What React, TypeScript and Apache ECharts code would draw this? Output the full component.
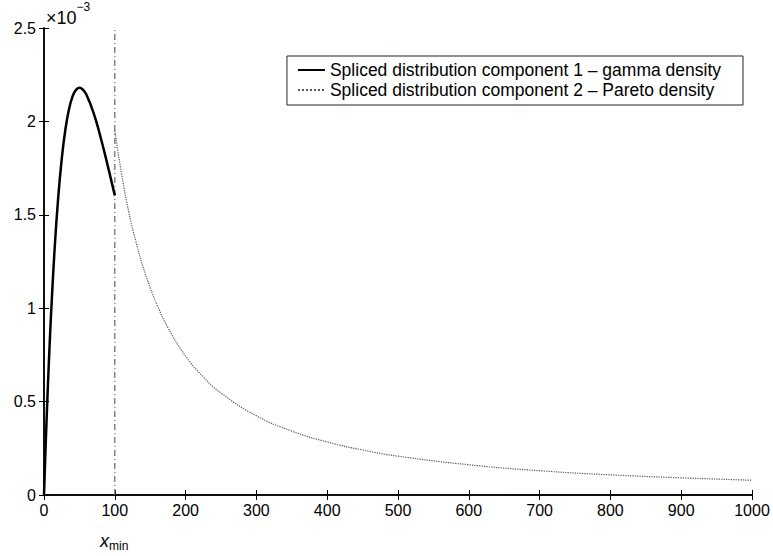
import React, { useEffect, useRef } from "react";
import * as echarts from "echarts";

// values in units of 1e-3
const gammaX = [0, 2, 4, 6, 8, 10, 15, 20, 25, 30, 35, 40, 45, 50, 55, 60, 70, 80, 90, 100];
const gammaY = [0, 0.228, 0.438, 0.631, 0.808, 0.97, 1.317, 1.589, 1.797, 1.951, 2.06, 2.13, 2.168, 2.18, 2.17, 2.142, 2.046, 1.914, 1.763, 1.604];

const paretoX = [100, 110, 120, 130, 140, 150, 160, 175, 200, 225, 250, 300, 350, 400, 450, 500, 600, 700, 800, 900, 1000];
const paretoY = [1.95, 1.71, 1.51, 1.354, 1.22, 1.11, 1.015, 0.896, 0.744, 0.632, 0.546, 0.424, 0.342, 0.284, 0.241, 0.208, 0.162, 0.13, 0.108, 0.092, 0.079];

const xMinValue = 100;
const yRange = [0, 2.5];
const xTicks = [0, 1000, 100];
const yTicks = [0, 2.5, 0.5];

const gammaName = "Spliced distribution component 1 \u2013 gamma density";
const paretoName = "Spliced distribution component 2 \u2013 Pareto density";

const FONT = "'Liberation Sans', Arial, Helvetica, sans-serif";

export default function App() {
  const ref = useRef<HTMLDivElement>(null);
  useEffect(() => {
    const chart = echarts.init(ref.current!, null, { renderer: "svg" });
    const axisCommon = {
      axisLine: { show: true, lineStyle: { color: "#000", width: 1.5 } },
      axisTick: { show: true, inside: true, length: 5, lineStyle: { color: "#000", width: 1 } },
      splitLine: { show: false },
    };
    chart.setOption({
      animation: false,
      backgroundColor: "#fff",
      textStyle: { fontFamily: FONT },
      grid: { left: 44, top: 28, right: 21, bottom: 61 },
      xAxis: [
        {
          type: "value",
          min: xTicks[0],
          max: xTicks[1],
          interval: xTicks[2],
          position: "bottom",
          ...axisCommon,
          axisLabel: {
            color: "#000",
            fontSize: 16,
            fontFamily: FONT,
            margin: 7,
            formatter: (v: number) => String(v),
          },
        },
        {
          type: "value",
          min: xTicks[0],
          max: xTicks[1],
          interval: xTicks[2],
          position: "top",
          ...axisCommon,
          axisLabel: { show: false },
        },
      ],
      yAxis: [
        {
          type: "value",
          min: yTicks[0],
          max: yTicks[1],
          interval: yTicks[2],
          position: "left",
          ...axisCommon,
          axisLabel: { color: "#000", fontSize: 16, fontFamily: FONT, margin: 8 },
        },
        {
          type: "value",
          min: yTicks[0],
          max: yTicks[1],
          interval: yTicks[2],
          position: "right",
          ...axisCommon,
          axisLabel: { show: false },
        },
      ],
      legend: {
        data: [gammaName, paretoName],
        orient: "vertical",
        right: 30,
        top: 56,
        itemWidth: 27,
        itemHeight: 14,
        itemGap: 2,
        padding: [5, 22, 6, 10],
        borderColor: "#222",
        borderWidth: 1,
        backgroundColor: "#fff",
        itemStyle: { opacity: 0 },
        textStyle: { color: "#000", fontSize: 17.5, fontFamily: FONT },
      },
      series: [
        {
          name: "xmin",
          type: "line",
          data: [
            [xMinValue, yRange[0]],
            [xMinValue, yRange[1]],
          ],
          symbol: "none",
          silent: true,
          lineStyle: { color: "#666", width: 1.2, type: [6, 3, 1, 3] },
          z: 1,
        },
        {
          name: gammaName,
          type: "line",
          data: gammaX.map((x, i) => [x, gammaY[i]]),
          symbol: "none",
          smooth: true,
          color: "#000",
          lineStyle: { color: "#000", width: 2.5 },
          z: 3,
        },
        {
          name: paretoName,
          type: "line",
          data: paretoX.map((x, i) => [x, paretoY[i]]),
          symbol: "none",
          smooth: true,
          color: "#555",
          lineStyle: { color: "#555", width: 1.2, type: "dotted" },
          z: 2,
        },
      ],
      graphic: [
        {
          type: "text",
          left: 46,
          top: 1,
          style: {
            text: "{a|\u00d710}{b|\u22123}",
            rich: {
              a: { fontSize: 18, fontFamily: FONT, fill: "#000", padding: [8, 0, 0, 0] },
              b: { fontSize: 12, fontFamily: FONT, fill: "#000", verticalAlign: "top" },
            },
          },
        },
        {
          type: "text",
          left: 100,
          top: 532,
          style: {
            text: "{a|x}{b|min}",
            rich: {
              a: { fontSize: 18, fontFamily: FONT, fontStyle: "italic", fill: "#000" },
              b: { fontSize: 12, fontFamily: FONT, fill: "#000", padding: [10, 0, 0, 0] },
            },
          },
        },
      ],
    });
    return () => chart.dispose();
  }, []);
  return (
    <div
      ref={ref}
      style={{ position: "fixed", left: 0, top: 0, width: 773, height: 556 }}
    />
  );
}
